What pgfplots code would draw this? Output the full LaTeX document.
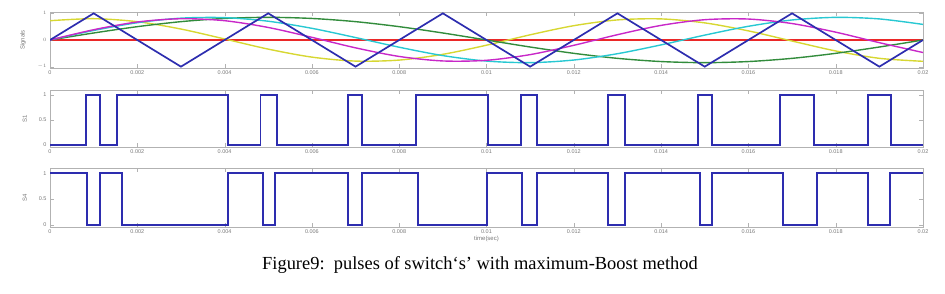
\documentclass[border=0pt]{standalone}
\usepackage{fontspec}
\setmainfont{Liberation Serif}
\newfontfamily\ticksf{Liberation Sans}
\usepackage{pgfplots}
\pgfplotsset{compat=1.18}
\usepackage{pgfplotstable}

\definecolor{mblue}{RGB}{45,45,175}
\definecolor{mgreen}{RGB}{50,140,60}
\definecolor{myellow}{RGB}{215,215,50}
\definecolor{mmag}{RGB}{200,40,200}
\definecolor{mcyan}{RGB}{40,200,210}
\definecolor{mred}{RGB}{235,40,40}
\definecolor{tgray}{RGB}{120,120,120}

\pgfplotstableread{
t       g       y       m       c
0       0       0.723   0       0
0.001   0.263   0.799   0.385   0.357
0.002   0.500   0.687   0.675   0.648
0.003   0.688   0.411   0.798   0.819
0.004   0.808   0.039   0.724   0.839
0.005   0.850  -0.342   0.470   0.704
0.006   0.808  -0.642   0.100   0.438
0.007   0.688  -0.791  -0.294   0.092
0.008   0.500  -0.753  -0.617  -0.271
0.009   0.263  -0.537  -0.786  -0.585
0.010   0      -0.195  -0.761  -0.790
0.011  -0.263   0.195  -0.548  -0.849
0.012  -0.500   0.537  -0.199  -0.751
0.013  -0.688   0.753   0.199  -0.514
0.014  -0.808   0.791   0.548  -0.183
0.015  -0.850   0.642   0.761   0.183
0.016  -0.808   0.342   0.786   0.514
0.017  -0.688  -0.039   0.617   0.751
0.018  -0.500  -0.411   0.294   0.849
0.019  -0.263  -0.687  -0.100   0.790
0.020   0      -0.799  -0.470   0.585
}\sig

\pgfplotsset{
  sub/.style={
    scale only axis, width=873bp,
    xmin=0, xmax=0.02,
    axis line style={gray!60, line width=0.8pt},
    tick style={gray!60},
    tick align=inside,
    xtick={0,0.002,0.004,0.006,0.008,0.01,0.012,0.014,0.016,0.018,0.02},
    xticklabels={0,0.002,0.004,0.006,0.008,0.01,0.012,0.014,0.016,0.018,0.02},
    scaled x ticks=false,
    tick label style={font=\ticksf\fontsize{5.5}{6}\selectfont, text=tgray},
    label style={font=\ticksf\fontsize{6}{6}\selectfont, text=tgray},
    xticklabel style={yshift=1bp},
    every axis plot/.append style={line width=1.4pt},
  }
}

\begin{document}
\begin{tikzpicture}
\useasboundingbox (0,0) rectangle (945bp,-294bp);

\begin{axis}[sub, at={(50bp,-12bp)}, anchor=north west, height=56bp,
  ymin=-1.05, ymax=1.05, ytick={-1,0,1}, ylabel={Signals}, ylabel style={yshift=5bp}]
\addplot[mred] coordinates {(0,0) (0.02,0)};
\addplot[myellow, smooth] table[x=t,y=y] {\sig};
\addplot[mgreen, smooth] table[x=t,y=g] {\sig};
\addplot[mcyan, smooth] table[x=t,y=c] {\sig};
\addplot[mmag, smooth] table[x=t,y=m] {\sig};
\addplot[mblue, line width=1.7pt] coordinates {(0,0) (0.001,1) (0.003,-1) (0.005,1) (0.007,-1) (0.009,1) (0.011,-1) (0.013,1) (0.015,-1) (0.017,1) (0.019,-1) (0.02,0)};
\end{axis}

\begin{axis}[sub, at={(50bp,-90bp)}, anchor=north west, height=57bp,
  ymin=-0.04, ymax=1.1, ytick={0,0.5,1}, yticklabels={0,0.5,1}, ylabel={S1}, ylabel style={yshift=5bp}]
\addplot[mblue, line width=1.7pt] coordinates {
(0,0) (0.00083,0) (0.00083,1) (0.00115,1) (0.00115,0) (0.00154,0) (0.00154,1) (0.00408,1) (0.00408,0)
(0.00482,0) (0.00482,1) (0.00520,1) (0.00520,0) (0.00683,0) (0.00683,1) (0.00715,1) (0.00715,0)
(0.00839,0) (0.00839,1) (0.01003,1) (0.01003,0) (0.01079,0) (0.01079,1) (0.01116,1) (0.01116,0)
(0.01278,0) (0.01278,1) (0.01317,1) (0.01317,0) (0.01485,0) (0.01485,1) (0.01517,1) (0.01517,0)
(0.01672,0) (0.01672,1) (0.01750,1) (0.01750,0) (0.01874,0) (0.01874,1) (0.01927,1) (0.01927,0) (0.02,0)};
\end{axis}

\begin{axis}[sub, at={(50bp,-168bp)}, anchor=north west, height=59bp,
  ymin=-0.04, ymax=1.1, ytick={0,0.5,1}, yticklabels={0,0.5,1}, ylabel={S4}, ylabel style={yshift=5bp},
  xlabel={time(sec)}, xlabel style={yshift=4bp}]
\addplot[mblue, line width=1.7pt] coordinates {
(0,1) (0.00085,1) (0.00085,0) (0.00115,0) (0.00115,1) (0.00165,1) (0.00165,0) (0.00408,0) (0.00408,1)
(0.00488,1) (0.00488,0) (0.00515,0) (0.00515,1) (0.00683,1) (0.00683,0) (0.00715,0) (0.00715,1)
(0.00843,1) (0.00843,0) (0.01001,0) (0.01001,1) (0.01081,1) (0.01081,0) (0.01116,0) (0.01116,1)
(0.01278,1) (0.01278,0) (0.01317,0) (0.01317,1) (0.01489,1) (0.01489,0) (0.01517,0) (0.01517,1)
(0.01679,1) (0.01679,0) (0.01757,0) (0.01757,1) (0.01874,1) (0.01874,0) (0.01924,0) (0.01924,1) (0.02,1)};
\end{axis}

\node at (480bp,-265bp) {\fontsize{18.5}{22}\selectfont Figure9:\ \ pulses of switch‘s’ with maximum-Boost method};
\end{tikzpicture}
\end{document}
